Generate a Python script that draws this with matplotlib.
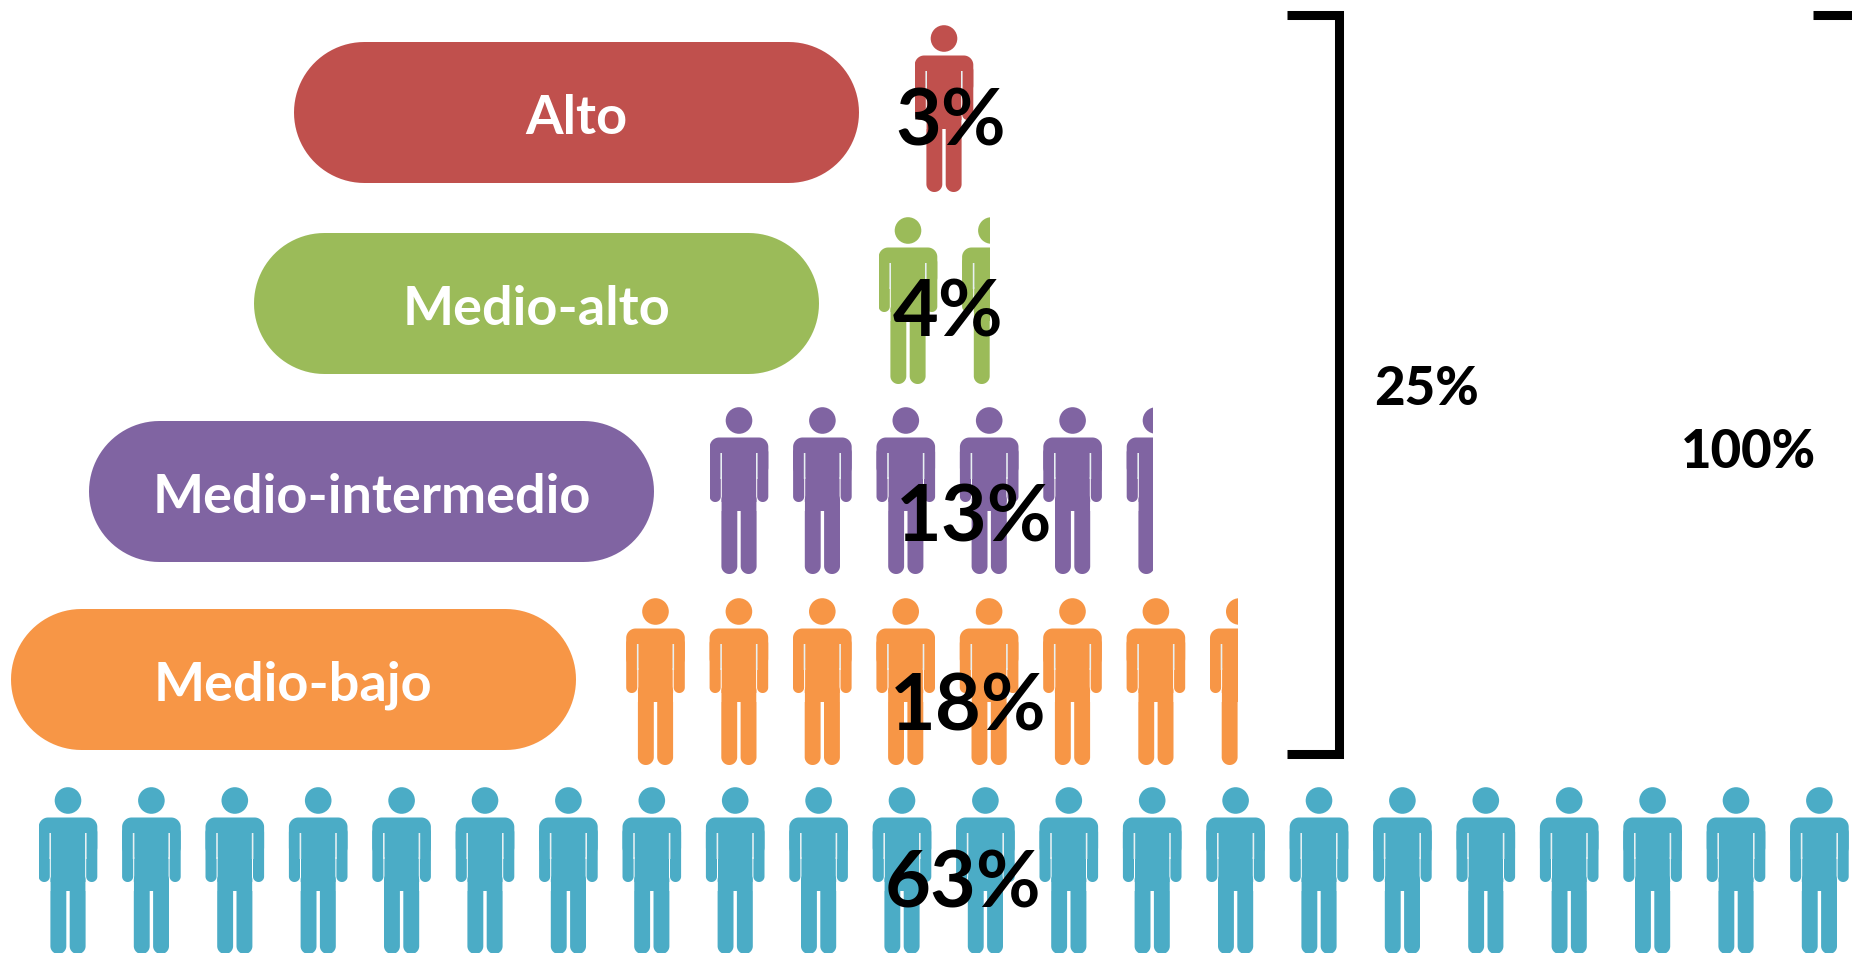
import numpy as np
import matplotlib
matplotlib.use("Agg")
import matplotlib.pyplot as plt
from matplotlib.patches import Circle, Polygon, Rectangle

W, H = 1852, 954

# Chart data, top row first
levels = ["Alto", "Medio-alto", "Medio-intermedio", "Medio-bajo"]
level_shares = ["3%", "4%", "13%", "18%"]
level_persons = [1, 1.34, 5.32, 7.33]
base_share = "63%"
base_persons = 22
bracket_labels = ["25%", "100%"]

colors = ["#C0504D", "#9BBB59", "#8064A2", "#F79646"]
base_color = "#4BACC6"

# Layout in pixels of the picture
PITCH = 83.4
PERSON_H = 167
pill_left = [294, 254, 89, 11]
pill_top = [43, 234, 422, 610]
PILL_W, PILL_H = 565, 141
first_person_x = [944, 908, 739, 655.5]
person_top = [26, 218, 408, 599]
share_pos = [(951, 124), (948, 315), (974, 520), (968, 709)]
base_x, base_top = 68, 788
base_share_pos = (963, 886)


def rounded_corners(x0, y0, x1, y1, r):
    """ Outline of a rectangle with true circular corners """
    t = np.linspace(0, np.pi / 2, 24)
    c, s = np.cos(t), np.sin(t)
    xs = np.r_[x1 - r + r * c, x0 + r - r * s, x0 + r - r * c, x1 - r + r * s]
    ys = np.r_[y1 - r + r * s, y1 - r + r * c, y0 + r - r * s, y0 + r - r * c]
    return np.column_stack([xs, ys])


def rounded(ax, x0, y0, x1, y1, r, color, clip=None):
    box = Polygon(rounded_corners(x0, y0, x1, y1, r), closed=True, fc=color, ec="none", lw=0)
    ax.add_patch(box)
    if clip is not None:
        box.set_clip_path(clip)


def draw_person(ax, cx, top, color, clip):
    """ One person icon, cut at the right edge of its row """
    head = Circle((cx, top + 13.5), 13.3, fc=color, ec="none")
    ax.add_patch(head)
    head.set_clip_path(clip)
    # shoulders and torso in one block, then the arms and legs
    rounded(ax, cx - 29.3, top + 30.5, cx + 29.3, top + 70, 9.5, color, clip)
    rounded(ax, cx - 29.3, top + 40, cx - 18.2, top + 95, 5.5, color, clip)
    rounded(ax, cx + 18.2, top + 40, cx + 29.3, top + 95, 5.5, color, clip)
    rounded(ax, cx - 17.2, top + 40, cx + 17.2, top + 104, 0.1, color, clip)
    rounded(ax, cx - 17.6, top + 85, cx - 1.7, top + PERSON_H, 7.9, color, clip)
    rounded(ax, cx + 1.7, top + 85, cx + 17.6, top + PERSON_H, 7.9, color, clip)
    # thin slits between arms and torso
    rounded(ax, cx - 18.6, top + 46, cx - 17.0, top + 72, 0.1, "#E8F0F2", clip)
    rounded(ax, cx + 17.0, top + 46, cx + 18.6, top + 72, 0.1, "#E8F0F2", clip)
    # block ends square at the arms, so clear what is left below it
    rounded(ax, cx - 29.6, top + 95, cx - 17.6, top + 104, 0.1, "white", clip)
    rounded(ax, cx + 17.6, top + 95, cx + 29.6, top + 104, 0.1, "white", clip)


def draw_row(ax, x0, top, persons, color):
    clip = Rectangle((x0 - 29.3, 0), persons * PITCH, H, transform=ax.transData)
    for i in range(int(persons + 0.99)):
        draw_person(ax, x0 + i * PITCH, top, color, clip)


fig = plt.figure(figsize=(W / 100, H / 100), dpi=100, facecolor="white")
ax = fig.add_axes([0, 0, 1, 1])
ax.set_xlim(0, W)
ax.set_ylim(H, 0)
ax.axis("off")

for i, level in enumerate(levels):
    rounded(ax, pill_left[i], pill_top[i], pill_left[i] + PILL_W, pill_top[i] + PILL_H,
            PILL_H / 2, colors[i])
    ax.text(pill_left[i] + PILL_W / 2, pill_top[i] + PILL_H / 2 + 5, level, color="white",
            family="Lato", weight="bold", fontsize=39, ha="center", va="center")
    draw_row(ax, first_person_x[i], person_top[i], level_persons[i], colors[i])

draw_row(ax, base_x, base_top, base_persons, base_color)

for (x, y), share in zip(share_pos + [base_share_pos], level_shares + [base_share]):
    ax.text(x, y, share, color="black", family="Lato", weight="bold", fontsize=57,
            ha="center", va="center", zorder=5)

# Brackets
ax.plot([1287, 1339, 1339, 1287], [16, 16, 755, 755], color="black", lw=6.5,
        solid_joinstyle="miter", solid_capstyle="butt")
ax.plot([1813, W], [16, 16], color="black", lw=6.5, solid_capstyle="butt")
ax.text(1427, 390, bracket_labels[0], family="Lato", weight="black", fontsize=38,
        ha="center", va="center")
ax.text(1748, 453, bracket_labels[1], family="Lato", weight="black", fontsize=38,
        ha="center", va="center")

fig.savefig("out.png", dpi=100, facecolor="white")
